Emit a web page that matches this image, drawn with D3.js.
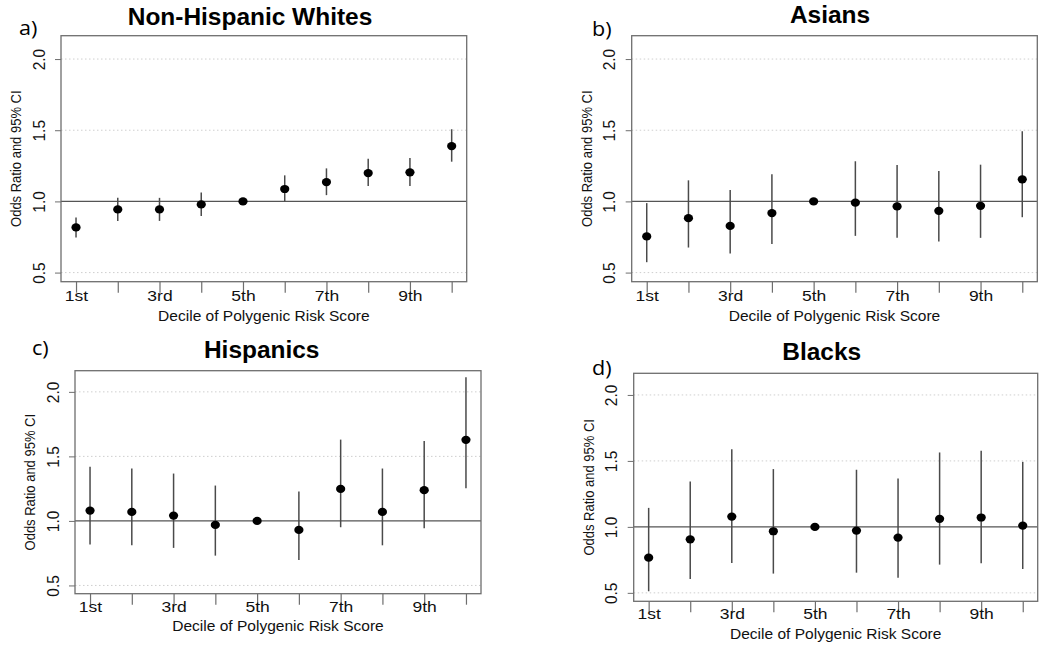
<!DOCTYPE html>
<html><head><meta charset="utf-8">
<script src="https://cdn.jsdelivr.net/npm/d3@7/dist/d3.min.js"></script>
<style>
html,body{margin:0;padding:0;background:#fff;}
svg{display:block;font-family:"Liberation Sans",Arial,sans-serif;}
</style></head>
<body><svg id="chart" width="1050" height="648"></svg>
<script>
// ---- data ----
const deciles = [1,2,3,4,5,6,7,8,9,10];
const xTickLabels = ["1st","","3rd","","5th","","7th","","9th",""];
const yTicks = [0.5,1.0,1.5,2.0];
const yGrid = [0.5,1.5,2.0];
const panelLetters = ["a)","b)","c)","d)"];
const panelTitles = ["Non-Hispanic Whites","Asians","Hispanics","Blacks"];
const xTitle = "Decile of Polygenic Risk Score";
const yTitle = "Odds Ratio and 95% CI";

const orWhite = [0.817,0.944,0.944,0.979,1.000,1.087,1.136,1.199,1.204,1.389];
const loWhite = [0.746,0.863,0.863,0.897,1.000,1.000,1.044,1.108,1.108,1.279];
const hiWhite = [0.887,1.025,1.025,1.063,1.000,1.183,1.232,1.300,1.305,1.507];

const orAsian = [0.754,0.882,0.828,0.918,1.000,0.991,0.965,0.934,0.969,1.155];
const loAsian = [0.573,0.676,0.634,0.701,1.000,0.758,0.744,0.718,0.744,0.889];
const hiAsian = [0.988,1.148,1.080,1.190,1.000,1.282,1.256,1.213,1.258,1.493];

const orHisp = [1.080,1.070,1.041,0.969,1.000,0.930,1.248,1.070,1.238,1.628];
const loHisp = [0.817,0.811,0.791,0.731,1.000,0.698,0.951,0.811,0.943,1.253];
const hiHisp = [1.419,1.406,1.367,1.274,1.000,1.227,1.630,1.406,1.620,2.114];

const orBlack = [0.767,0.906,1.078,0.967,1.000,0.972,0.919,1.061,1.071,1.010];
const loBlack = [0.512,0.605,0.727,0.646,1.000,0.653,0.615,0.714,0.724,0.681];
const hiBlack = [1.144,1.344,1.589,1.438,1.000,1.433,1.367,1.564,1.577,1.493];

const seriesOR = [orWhite, orAsian, orHisp, orBlack];
const seriesLo = [loWhite, loAsian, loHisp, loBlack];
const seriesHi = [hiWhite, hiAsian, hiHisp, hiBlack];

// ---- layout (positions only) ----
const layout = [
  {l:61,   r:466.7,  t:35.7,  b:281.7, tx:250,   ty:25,  lx:19,  ly:35,  xty:321,   xlo:19.3},
  {l:631.7,r:1037.3, t:35.7,  b:281.7, tx:830,   ty:23,  lx:592, ly:36,  xty:321,   xlo:19.3},
  {l:75,   r:481,    t:370.7, b:593.7, tx:261.7, ty:358, lx:32,  ly:355, xty:631,   xlo:18.5},
  {l:633.7,r:1037.7, t:373.3, b:601.3, tx:821.7, ty:360, lx:592, ly:375, xty:638.5, xlo:17.8}
];

const svg = d3.select("#chart");
const boxCol = "#6e6e6e", barCol = "#4a4a4a";
const FONT = "Liberation Sans, Arial, sans-serif";

layout.forEach((p, i) => {
  const x = d3.scaleLinear().domain([0.64, 10.36]).range([p.l, p.r]);
  const y = d3.scaleLinear().domain([0.436, 2.164]).range([p.b, p.t]);
  const g = svg.append("g");

  // grid
  g.selectAll(".grid").data(yGrid).enter().append("line")
    .attr("x1", p.l).attr("x2", p.r)
    .attr("y1", d => y(d)).attr("y2", d => y(d))
    .attr("stroke", "#cfcfcf").attr("stroke-width", 1)
    .attr("stroke-dasharray", "1.5,2.5");

  // reference line
  g.append("line").attr("x1", p.l).attr("x2", p.r)
    .attr("y1", y(1)).attr("y2", y(1))
    .attr("stroke", "#555").attr("stroke-width", 1.3);

  // x axis (ticks + labels)
  const xAxis = d3.axisBottom(x).tickValues(deciles)
    .tickSize(11).tickPadding(0)
    .tickFormat((d, j) => xTickLabels[j]);
  const xa = g.append("g").attr("transform", `translate(0,${p.b})`).call(xAxis);
  xa.select(".domain").remove();
  xa.selectAll(".tick line").attr("stroke", boxCol).attr("stroke-width", 1.2);
  xa.selectAll(".tick text").attr("font-size", 15.5).attr("fill", "#111")
    .attr("font-family", FONT)
    .attr("y", null).attr("dy", null)
    .attr("transform", `translate(0,${p.xlo}) scale(1.13,1)`);

  // y axis
  const yAxis = d3.axisLeft(y).tickValues(yTicks).tickSize(6).tickPadding(0)
    .tickFormat(d3.format(".1f"));
  const ya = g.append("g").attr("transform", `translate(${p.l},0)`).call(yAxis);
  ya.select(".domain").remove();
  ya.selectAll(".tick line").attr("stroke", boxCol).attr("stroke-width", 1);
  ya.selectAll(".tick text").attr("font-size", 15.5).attr("fill", "#111")
    .attr("font-family", FONT)
    .attr("x", null).attr("dy", null).attr("y", null)
    .attr("text-anchor", "middle")
    .attr("transform", "translate(-16.5,0) rotate(-90) scale(1,1.08)");

  // box
  g.append("rect").attr("x", p.l).attr("y", p.t)
    .attr("width", p.r - p.l).attr("height", p.b - p.t)
    .attr("fill", "none").attr("stroke", boxCol).attr("stroke-width", 1.3);

  // error bars
  const lo = seriesLo[i], hi = seriesHi[i], or = seriesOR[i];
  g.selectAll(".ci").data(deciles).enter().append("line")
    .attr("x1", d => x(d)).attr("x2", d => x(d))
    .attr("y1", (d, j) => y(lo[j])).attr("y2", (d, j) => y(hi[j]))
    .attr("stroke", barCol).attr("stroke-width", 1.5);

  // points
  g.selectAll(".pt").data(deciles).enter().append("ellipse")
    .attr("cx", d => x(d)).attr("cy", (d, j) => y(or[j]))
    .attr("rx", 4.6).attr("ry", 4.1).attr("fill", "#000");

  // titles
  g.append("text").attr("transform", `translate(${p.tx},${p.ty}) scale(1.05,1)`)
    .attr("text-anchor", "middle").attr("font-size", 23.3).attr("font-weight", "bold")
    .attr("fill", "#000").text(panelTitles[i]);
  g.append("text").attr("transform", `translate(${p.lx},${p.ly}) scale(1.08,1)`)
    .attr("font-family", "Open Sans, Noto Sans, sans-serif")
    .attr("font-size", 20).attr("fill", "#000").text(panelLetters[i]);

  // axis titles
  g.append("text").attr("transform", `translate(${(p.l + p.r) / 2},${p.xty}) scale(1.11,1)`)
    .attr("text-anchor", "middle").attr("font-size", 14).attr("fill", "#111")
    .text(xTitle);
  const yc = (p.t + p.b) / 2;
  g.append("text").attr("transform", `translate(${p.l - 40},${yc}) rotate(-90) scale(1,1.1)`)
    .attr("text-anchor", "middle").attr("font-size", 13).attr("fill", "#111")
    .text(yTitle);
});
</script>
</body></html>
